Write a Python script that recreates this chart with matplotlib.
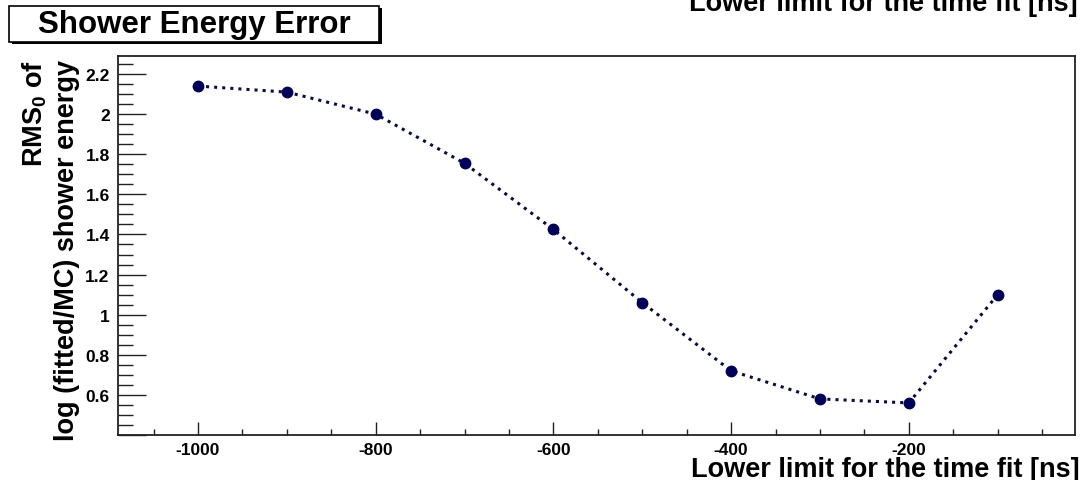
import numpy as np
import matplotlib
matplotlib.use("Agg")
import matplotlib.pyplot as plt
from matplotlib.patches import Rectangle
from matplotlib.ticker import MultipleLocator

plt.rcParams['font.family'] = ['Liberation Sans', 'DejaVu Sans']
plt.rcParams['font.weight'] = 'bold'
plt.rcParams['axes.unicode_minus'] = False
plt.rcParams['mathtext.fontset'] = 'custom'
plt.rcParams['mathtext.bf'] = 'Liberation Sans:bold'
plt.rcParams['mathtext.rm'] = 'Liberation Sans:bold'
plt.rcParams['mathtext.default'] = 'bf'

# lower limit of the time fit window vs RMS of log(E_fit/E_MC)
lower_limit = [-1000, -900, -800, -700, -600, -500, -400, -300, -200, -100]
rms_energy  = [2.14, 2.11, 2.00, 1.755, 1.425, 1.06, 0.72, 0.58, 0.56, 1.10]

xtitle = "Lower limit for the time fit [ns]"

W, H = 1081, 481
fig = plt.figure(figsize=(W / 100, H / 100), dpi=100)
ax = fig.add_axes([118 / W, 45 / H, (1075 - 118) / W, (436 - 57) / H])

ax.plot(lower_limit, rms_energy, ls=':', lw=2.2, c='#0b0b3c', zorder=2)
ax.plot(lower_limit, rms_energy, 'o', ms=7.5, c='#000058', zorder=3)

ax.set_xlim(-1090, -13)
ax.set_ylim(0.4, 2.29)

ax.xaxis.set_major_locator(MultipleLocator(200))
ax.xaxis.set_minor_locator(MultipleLocator(50))
ax.yaxis.set_major_locator(MultipleLocator(0.2))
ax.yaxis.set_minor_locator(MultipleLocator(0.05))
# no label at the very bottom edge
ax.yaxis.set_major_formatter(lambda v, p: "" if v < 0.45 else f"{v:g}")

ax.tick_params(axis='x', which='major', direction='in', length=9.5, width=1.0,
               labelsize=12.5, pad=5, colors='#222222', labelcolor='black')
ax.tick_params(axis='x', which='minor', direction='in', length=4.5, width=1.0,
               colors='#222222')
ax.tick_params(axis='y', which='major', direction='in', length=20, width=1.0,
               labelsize=12.5, pad=6, colors='#222222', labelcolor='black')
ax.tick_params(axis='y', which='minor', direction='in', length=11, width=1.0,
               colors='#222222')
for lab in ax.get_xticklabels() + ax.get_yticklabels():
    lab.set_fontweight('bold')

for side in ['left', 'bottom', 'right', 'top']:
    ax.spines[side].set_linewidth(1.3)
    ax.spines[side].set_color('#222222')

# axis titles, ROOT style (aligned to the end of the axis)
fig.text(1080 / W, 1 - 477 / H, xtitle, ha='right', va='baseline',
         fontsize=19.5, fontweight='bold')
fig.text(1078 / W, 1 - 11 / H, xtitle, ha='right', va='baseline',
         fontsize=19.5, fontweight='bold')
fig.text(35 / W, 1 - 60 / H, r"RMS$_{0}$ of", rotation=90, ha='center',
         va='top', fontsize=19.5, fontweight='bold')
fig.text(67 / W, 1 - 60 / H, "log (fitted/MC) shower energy", rotation=90,
         ha='center', va='top', fontsize=19.5, fontweight='bold')

# title box with shadow
fig.patches.append(Rectangle((12 / W, 1 - 45 / H), 370 / W, 36 / H,
                             transform=fig.transFigure, fc='black', ec='none'))
fig.patches.append(Rectangle((9 / W, 1 - 43 / H), 370 / W, 36 / H,
                             transform=fig.transFigure, fc='white', ec='black', lw=1.2))
fig.text(194 / W, 1 - 25 / H, "Shower Energy Error", ha='center', va='center',
         fontsize=22.5, fontweight='bold')

fig.savefig("out.png", dpi=100)
